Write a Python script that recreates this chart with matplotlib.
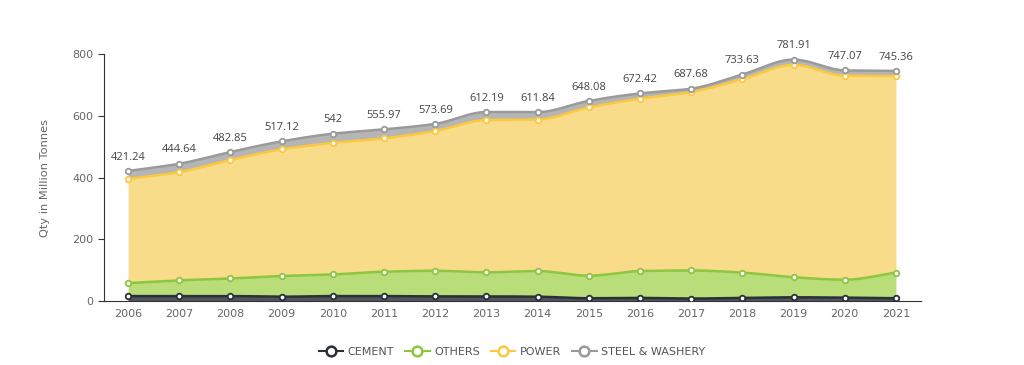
import numpy as np
import matplotlib.pyplot as plt
from matplotlib.lines import Line2D

# --- data (Million Tonnes) ---
years = [2006, 2007, 2008, 2009, 2010, 2011, 2012, 2013,
         2014, 2015, 2016, 2017, 2018, 2019, 2020, 2021]
cement = [16, 16, 16, 14, 16, 16, 15, 15, 14, 9, 10, 8, 10, 12, 11, 9]
others = [42, 51, 57, 67, 70, 79, 83, 78, 83, 73, 87, 91, 82, 65, 58, 83]
power = [337.24, 350.64, 383.85, 410.12, 426.00, 431.97, 452.69, 493.19,
         490.84, 545.08, 558.42, 577.68, 626.63, 687.91, 661.07, 636.36]
steel = [26, 27, 26, 26, 30, 29, 23, 26, 24, 21, 17, 11, 15, 17, 17, 17]

series = [
    ("CEMENT", cement, "#50555e", "#2b2f38"),
    ("OTHERS", others, "#b9dd79", "#8dc63f"),
    ("POWER", power, "#f9dc8a", "#fcc840"),
    ("STEEL & WASHERY", steel, "#b5b5b5", "#9a9a9a"),
]


def smooth(x, y, n=20):
    # monotone cubic (Fritsch-Carlson) just for drawing the curve
    x = np.asarray(x, float)
    y = np.asarray(y, float)
    h = np.diff(x)
    d = np.diff(y) / h
    m = np.zeros_like(y)
    m[0], m[-1] = d[0], d[-1]
    for i in range(1, len(y) - 1):
        if d[i - 1] * d[i] > 0:
            m[i] = 2 / (1 / d[i - 1] + 1 / d[i])
    xs, ys = [], []
    for i in range(len(h)):
        t = np.linspace(0, 1, n, endpoint=False)
        h00 = 2 * t**3 - 3 * t**2 + 1
        h10 = t**3 - 2 * t**2 + t
        h01 = -2 * t**3 + 3 * t**2
        h11 = t**3 - t**2
        xs.append(x[i] + t * h[i])
        ys.append(h00 * y[i] + h10 * h[i] * m[i] + h01 * y[i + 1] + h11 * h[i] * m[i + 1])
    xs.append([x[-1]])
    ys.append([y[-1]])
    return np.concatenate(xs), np.concatenate(ys)


fig = plt.figure(figsize=(10.24, 3.65), dpi=100)
ax = fig.add_axes([0.1016, 0.1753, 0.7978, 0.6767])

base = np.zeros(len(years))
base_s = smooth(years, base)[1]
for name, vals, fill, line in series:
    top = base + np.array(vals)
    xs, top_s = smooth(years, top)
    ax.fill_between(xs, base_s, top_s, color=fill, lw=0, zorder=2)
    ax.plot(xs, top_s, color=line, lw=1.8, zorder=3)
    ax.plot(years, top, "o", ms=4, mfc="white", mec=line, mew=1.3, zorder=4)
    base, base_s = top, top_s

# total labels
for x, t in zip(years, base):
    ax.annotate(f"{round(t, 2):g}", (x, t), xytext=(0, 6), textcoords="offset points",
                ha="center", va="bottom", fontsize=8, color="#444444",
                family="Open Sans")

ax.set_xlim(2005.53, 2021.49)
ax.set_ylim(0, 800)
ax.set_yticks([0, 200, 400, 600, 800])
ax.set_xticks(years)
ax.tick_params(axis="both", labelsize=8, colors="#666666", length=4)
ax.tick_params(axis="x", length=0, pad=6)
ax.tick_params(axis="y", color="#333333")
for s in ["top", "right"]:
    ax.spines[s].set_visible(False)
for s in ["left", "bottom"]:
    ax.spines[s].set_color("#333333")
ax.set_ylabel("Qty in Million Tonnes", fontsize=8.2, color="#666666", labelpad=16)

handles = [Line2D([], [], color=line, lw=1.5, marker="o", ms=7, mfc="white",
                  mec=line, mew=1.8) for _, _, _, line in series]
fig.legend(handles, [s[0] for s in series], loc="center", bbox_to_anchor=(0.5, 0.035),
           ncol=4, frameon=False, fontsize=8, labelcolor="#555555",
           handlelength=2.2, handletextpad=0.4, columnspacing=1.0)

fig.savefig("out.png", dpi=100)
